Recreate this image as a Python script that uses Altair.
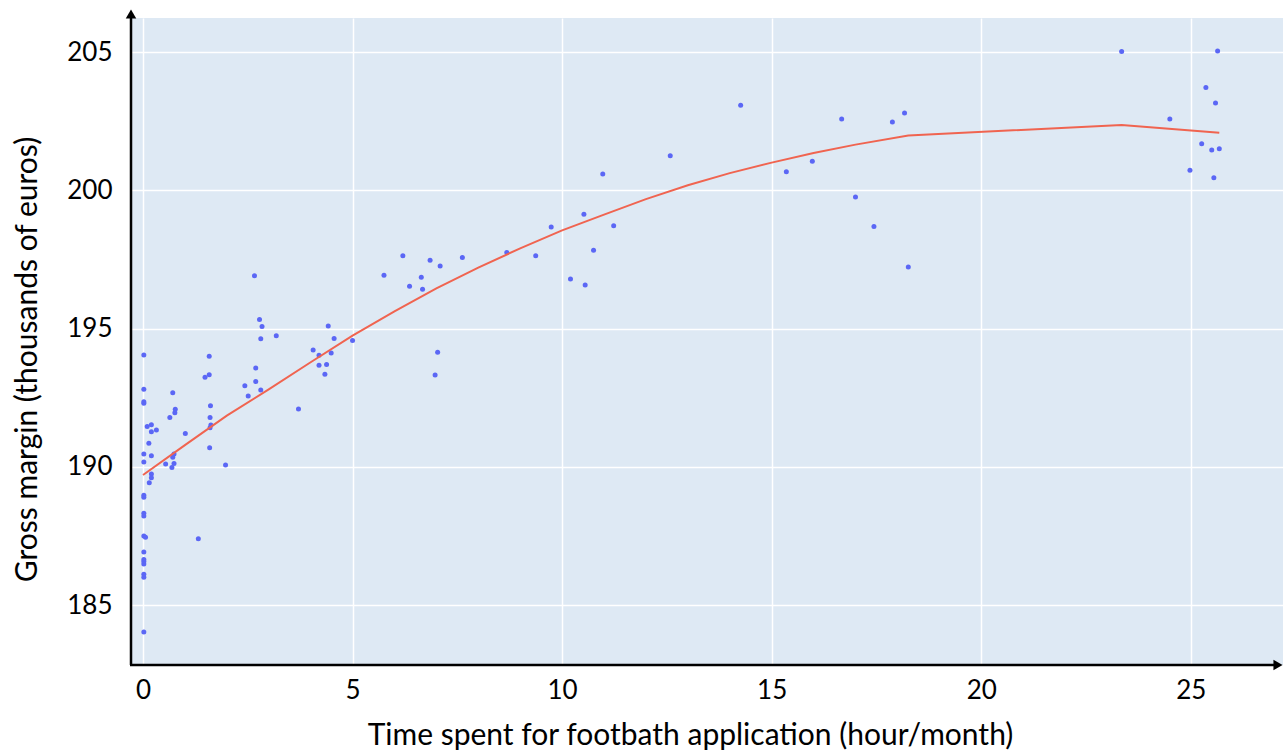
import altair as alt
import pandas as pd

# ---- data ----
time_hours = [
    0.02, 0.02, 0.02, 0.02, 0.10, 0.20, 0.20, 0.32, 0.14, 0.02, 0.20, 0.02, 0.20, 0.20,
    0.15, 0.02, 0.02, 0.02, 0.02, 0.02, 0.06, 0.02, 0.02, 0.02, 0.02, 0.02, 0.02, 0.02,
    0.71, 0.77, 0.76, 0.64, 1.01, 0.74, 0.71, 0.74, 0.69, 0.54,
    1.32, 1.58, 1.58, 1.48, 1.61, 1.60, 1.62, 1.60, 1.59, 1.97,
    2.43, 2.51, 2.66, 2.78, 2.84, 2.81, 3.18, 2.69, 2.69, 2.81, 3.71,
    4.06, 4.20, 4.42, 4.56, 4.49, 4.20, 4.38, 4.34, 5.00,
    5.75, 6.20, 6.36, 6.64, 6.67, 6.85, 7.09, 7.62, 7.03, 6.97,
    8.68, 9.37, 9.74, 10.20, 10.55, 10.52, 10.75, 10.97, 11.23,
    12.58, 14.26, 15.35, 15.97, 16.67, 17.00, 17.44, 17.88, 18.17, 18.26,
    23.35, 25.64, 25.36, 25.59, 24.50, 25.26, 25.50, 25.68, 24.98, 25.55,
]
gross_margin = [
    194.04, 192.80, 192.35, 192.30, 191.46, 191.52, 191.27, 191.33, 190.85, 190.46, 190.40, 190.17, 189.74, 189.60,
    189.42, 188.97, 188.90, 188.32, 188.22, 187.50, 187.45, 186.92, 186.65, 186.57, 186.48, 186.11, 186.00, 184.02,
    192.68, 192.08, 191.95, 191.78, 191.20, 190.46, 190.34, 190.12, 189.97, 190.10,
    187.40, 194.00, 193.33, 193.24, 192.21, 191.78, 191.51, 191.41, 190.69, 190.06,
    192.93, 192.56, 196.91, 195.33, 195.07, 194.63, 194.74, 193.57, 193.08, 192.78, 192.09,
    194.22, 194.03, 195.09, 194.64, 194.11, 193.67, 193.70, 193.35, 194.57,
    196.93, 197.63, 196.53, 196.85, 196.42, 197.47, 197.26, 197.57, 194.14, 193.32,
    197.75, 197.63, 198.67, 196.79, 196.57, 199.13, 197.83, 200.59, 198.72,
    201.25, 203.07, 200.67, 201.05, 202.58, 199.76, 198.69, 202.47, 202.79, 197.22,
    205.02, 205.04, 203.72, 203.16, 202.58, 201.68, 201.46, 201.50, 200.72, 200.45,
]
fit_time = [0, 1, 2, 3, 4, 5, 6, 7, 8, 9, 10, 11, 12, 13, 14, 15, 16, 17, 18.26, 23.35, 25.68]
fit_margin = [189.70, 190.78, 191.85, 192.80, 193.78, 194.74, 195.62, 196.45, 197.20, 197.90,
              198.55, 199.12, 199.68, 200.18, 200.62, 201.00, 201.35, 201.65, 201.98, 202.36, 202.08]
x_ticks = [0, 5, 10, 15, 20, 25]
y_ticks = [185, 190, 195, 200, 205]

W, H = 1153, 647
FONT = "Lato"

pts = pd.DataFrame({"t": time_hours, "g": gross_margin})
fit = pd.DataFrame({"t": fit_time, "g": fit_margin})

xscale = alt.Scale(domain=[-0.31, 27.2], nice=False, zero=False)
yscale = alt.Scale(domain=[182.83, 206.23], nice=False, zero=False)

xaxis = alt.Axis(
    values=x_ticks, grid=True, domain=False, ticks=False,
    gridColor="white", gridWidth=1.5, gridOpacity=1,
    labelFont=FONT, labelFontSize=26, labelColor="black", labelPadding=12,
    title="Time spent for footbath application (hour/month)",
    titleFont=FONT, titleFontSize=30, titleFontWeight="normal", titleColor="black",
    titleX=560, titleY=70, titleAlign="center", titleBaseline="middle",
)
yaxis = alt.Axis(
    values=y_ticks, grid=True, domain=False, ticks=False,
    gridColor="white", gridWidth=1.5, gridOpacity=1,
    labelFont=FONT, labelFontSize=26, labelColor="black", labelPadding=18,
    title="Gross margin (thousands of euros)",
    titleFont=FONT, titleFontSize=30, titleFontWeight="normal", titleColor="black",
    titleX=-103, titleY=341, titleAngle=-90, titleAlign="center", titleBaseline="middle",
)

scatter = alt.Chart(pts).mark_circle(size=25, color="#5B67F5", opacity=1).encode(
    x=alt.X("t:Q", scale=xscale, axis=xaxis),
    y=alt.Y("g:Q", scale=yscale, axis=yaxis),
)
line = alt.Chart(fit).mark_line(color="#F06450", strokeWidth=2).encode(
    x=alt.X("t:Q", scale=xscale),
    y=alt.Y("g:Q", scale=yscale),
)

one = pd.DataFrame({"a": [0]})
base = alt.Chart(one)
rule_y = base.mark_rule(color="black", strokeWidth=2.5).encode(
    x=alt.value(1), y=alt.value(-4), y2=alt.value(H))
rule_x = base.mark_rule(color="black", strokeWidth=2.5).encode(
    x=alt.value(0), x2=alt.value(W - 5), y=alt.value(H))
arrow_y = base.mark_point(shape="triangle-up", filled=True, color="black", size=110, opacity=1).encode(
    x=alt.value(1), y=alt.value(-4))
arrow_x = base.mark_point(shape="triangle-right", filled=True, color="black", size=110, opacity=1).encode(
    x=alt.value(W - 5), y=alt.value(H))

chart = alt.layer(scatter, line, rule_y, rule_x, arrow_y, arrow_x).properties(
    width=W, height=H,
    padding={"left": 130, "top": 18, "right": 2, "bottom": 88},
    autosize=alt.AutoSizeParams(type="none"),
    background="white",
).configure_view(
    fill="#DEE9F4", strokeWidth=0
)

chart.save("out.html", embed_options={"renderer": "svg", "actions": False})
